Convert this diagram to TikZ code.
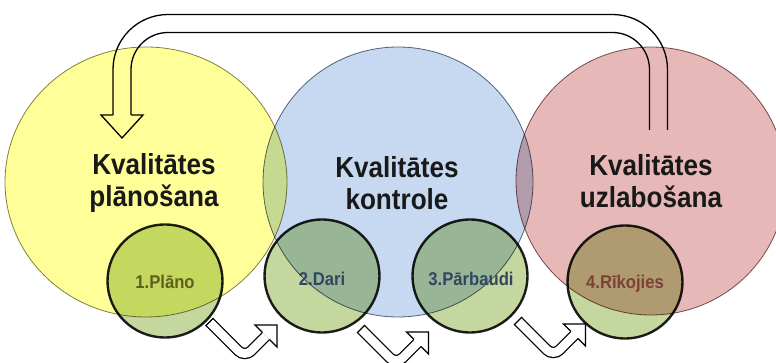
\documentclass[tikz,border=0pt]{standalone}
\usepackage{fontspec}
\setmainfont{Liberation Sans}
\newfontfamily\narrowsans[FakeStretch=0.9]{Liberation Sans}
\usetikzlibrary{shapes.geometric,calc}

\definecolor{planfill}{RGB}{255,255,153}
\definecolor{controlfill}{RGB}{198,217,241}
\definecolor{improvefill}{RGB}{230,184,183}
\definecolor{stepfill}{RGB}{196,215,158}
\definecolor{planline}{RGB}{128,128,80}
\definecolor{controlline}{RGB}{95,105,125}
\definecolor{improveline}{RGB}{125,90,90}
\definecolor{stepline}{RGB}{30,30,30}
\definecolor{planlabel}{RGB}{95,95,30}
\definecolor{controllabel}{RGB}{50,70,100}
\definecolor{improvelabel}{RGB}{125,65,55}

\begin{document}
\begin{tikzpicture}[x=1pt, y=-1pt]
    \tikzstyle{bigset} = [ellipse, draw, line width=0.8pt, inner sep=0pt, outer sep=0pt, minimum width=270pt, minimum height=270pt]
    \tikzstyle{stepset} = [ellipse, draw=stepline, line width=2.4pt, fill=stepfill, inner sep=0pt, outer sep=0pt, minimum width=115pt, minimum height=113pt]
    \tikzstyle{bigtext} = [align=center, text=black!90, font=\narrowsans\fontsize{29}{32}\selectfont\bfseries]
    \tikzstyle{steptext} = [font=\narrowsans\fontsize{18.5}{20}\selectfont\bfseries]
    \tikzstyle{outline} = [draw=black, line width=1.3pt]
    \tikzstyle{hollow} = [outline, double=white, double distance=8.7pt, rounded corners=9pt]

    \useasboundingbox (0,0) rectangle (776,363);
    \clip (0,0) rectangle (776,363);

    % sets and steps, mixed like overlapping transparencies
    \begin{scope}[blend mode=multiply]
        \node [bigset, draw=planline, fill=planfill, minimum width=282pt] (plan) at (146,182) {};
        \node [bigset, draw=controlline, fill=controlfill] (control) at (398,182) {};
        \node [bigset, draw=improveline, fill=improvefill, minimum height=268pt] (improve) at (651,181) {};

        \node [stepset] (plano) at (165,281) {};
        \node [stepset] (dari) at (322,276) {};
        \node [stepset] (parbaudi) at (470,276) {};
        \node [stepset] (rikojies) at (625,282) {};

        % loop back from improvement to planning
        \coordinate (loop start) at ($(improve.north)+(7.5,83)$);
        \coordinate (loop end) at ($(plan.north)+(-24,68)$);
        \draw [outline, rounded corners=55pt] ($(loop start)+(9,0)$) -- ++(0,-115.5) -| ($(loop end)+(-9,0)$);
        \draw [outline, rounded corners=37pt] ($(loop start)+(-9,0)$) -- ++(0,-97.5) -| ($(loop end)+(9,0)$);
        \draw [outline] ($(loop end)+(-9,0)$) -- ++(-12,0) -- ++(21,23) -- ++(21,-23) -- ++(-12,0);
    \end{scope}

    % step arrows
    \foreach \tx/\ty in {209.5/322, 361/329, 518/321}
    {
        \begin{scope}[shift={(\tx,\ty)}]
            \draw [hollow] (0,0) -- (35.25,35.25) -- (56.5,14);
            \draw [outline] (-4,4) -- (4,-4);
            \fill [white] (45.5,3) -- (67.5,3) -- (67.5,25) -- cycle;
            \draw [outline] (52.96,10.46) -- (45.5,3) -- (67.5,3) -- (67.5,25) -- (60.04,17.54);
        \end{scope}
    }

    \node [bigtext] (plan text) at ([xshift=8pt, yshift=-1pt]plan.center) {Kvalitātes\\plānošana};
    \node [bigtext] (control text) at ([xshift=-1pt, yshift=-1pt]control.center) {Kvalitātes\\kontrole};
    \node [bigtext] (improve text) at ([yshift=0pt]improve.center) {Kvalitātes\\uzlabošana};

    \node [steptext, text=planlabel] (plano text) at ([yshift=-1pt]plano.center) {1.Plāno};
    \node [steptext, text=controllabel] (dari text) at ([yshift=-3pt]dari.center) {2.Dari};
    \node [steptext, text=controllabel] (parbaudi text) at ([xshift=1pt, yshift=-3pt]parbaudi.center) {3.Pārbaudi};
    \node [steptext, text=improvelabel] (rikojies text) at ([yshift=-2pt]rikojies.center) {4.Rīkojies};
\end{tikzpicture}
\end{document}
